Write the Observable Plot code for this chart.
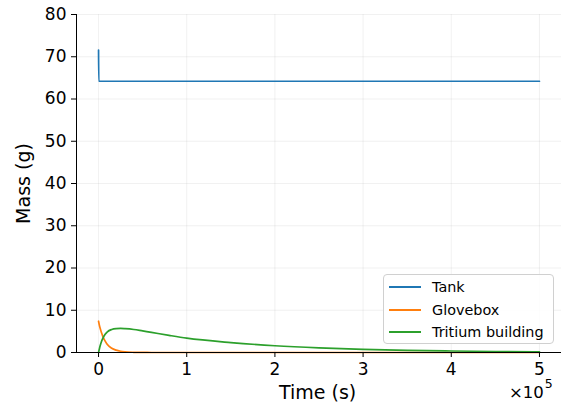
<!DOCTYPE html>
<html><head><meta charset="utf-8">
<script src="https://cdn.jsdelivr.net/npm/d3@7"></script>
<script src="https://cdn.jsdelivr.net/npm/@observablehq/plot@0.6"></script>
<style>
body{margin:0;background:#fff;font-family:"DejaVu Sans",sans-serif;}
#wrap{position:relative;width:566px;height:410px;overflow:hidden;}
.lbl{position:absolute;color:#000;white-space:nowrap;}
#legend{position:absolute;left:383px;top:274px;width:169px;height:68px;border:1px solid #d0d0d0;border-radius:4px;background:rgba(255,255,255,0.85);font-size:14.4px;}
.row{position:absolute;left:0;height:20px;display:flex;align-items:center;}
.sw{width:32px;height:2px;margin-left:5px;margin-right:11px;}
</style></head><body><div id="wrap"></div>
<script>
const seriesNames = ["Tank", "Glovebox", "Tritium building"];
const seriesColors = ["#1f77b4", "#ff7f0e", "#2ca02c"];

const tankTime = [0, 300, 500000];
const tankMass = [71.6, 64.2, 64.2];

const time = [0, 1000, 2000, 3500, 5000, 7500, 10000, 15000, 20000, 25000, 30000, 40000, 50000, 60000, 80000, 100000, 150000, 200000, 250000, 300000, 350000, 400000, 450000, 500000];
const glovebox = [7.4, 6.4, 5.6, 4.6, 3.7, 2.7, 1.9, 1.0, 0.55, 0.3, 0.16, 0.05, 0.015, 0.005, 0, 0, 0, 0, 0, 0, 0, 0, 0, 0];
const building = [0, 0.9, 1.7, 2.7, 3.4, 4.3, 4.9, 5.45, 5.65, 5.7, 5.65, 5.45, 5.1, 4.75, 4.05, 3.4, 2.35, 1.6, 1.1, 0.75, 0.5, 0.35, 0.24, 0.17];

const xTicks = [0, 100000, 200000, 300000, 400000, 500000];
const xTickLabels = ["0", "1", "2", "3", "4", "5"];
const yTicks = [0, 10, 20, 30, 40, 50, 60, 70, 80];

const rows = [];
tankTime.forEach((t, i) => rows.push({t, m: tankMass[i], s: seriesNames[0]}));
time.forEach((t, i) => rows.push({t, m: glovebox[i], s: seriesNames[1]}));
time.forEach((t, i) => rows.push({t, m: building[i], s: seriesNames[2]}));

const chart = Plot.plot({
  width: 566, height: 410,
  marginLeft: 76, marginRight: 5, marginTop: 14, marginBottom: 58,
  style: {fontFamily: "DejaVu Sans", fontSize: "17px", color: "#000", background: "transparent", overflow: "visible"},
  x: {domain: [-25000, 525000]},
  y: {domain: [0, 80]},
  color: {domain: seriesNames, range: seriesColors},
  marks: [
    Plot.gridX(xTicks, {stroke: "#b0b0b0", strokeOpacity: 0.22, strokeWidth: 0.8}),
    Plot.gridY(yTicks, {stroke: "#b0b0b0", strokeOpacity: 0.22, strokeWidth: 0.8}),
    Plot.line(rows, {x: "t", y: "m", z: "s", stroke: "s", strokeWidth: 1.7, curve: "monotone-x"}),
    Plot.ruleX([-25000], {stroke: "#000", strokeWidth: 1}),
    Plot.ruleY([0], {stroke: "#000", strokeWidth: 1}),
    Plot.axisX(xTicks, {tickFormat: d => xTickLabels[xTicks.indexOf(d)], tickSize: 5, tickPadding: 5, label: null, fontSize: 17}),
    Plot.axisY(yTicks, {tickSize: 5, tickPadding: 5, label: null, fontSize: 17})
  ]
});
const wrap = document.getElementById("wrap");
wrap.appendChild(chart);

function addLabel(html, css) {
  const d = document.createElement("div");
  d.className = "lbl";
  d.innerHTML = html;
  Object.assign(d.style, css);
  wrap.appendChild(d);
  return d;
}
addLabel("Time (s)", {left: "279px", top: "383px", fontSize: "19px", lineHeight: "19px"});
addLabel("×10<span style='font-size:12.5px;position:relative;top:-10px;margin-left:1px'>5</span>", {left: "509px", top: "385px", fontSize: "16.5px", lineHeight: "16.5px"});
addLabel("Mass (g)", {left: "-17px", top: "174px", width: "81px", textAlign: "center", fontSize: "19px", lineHeight: "19px", transform: "rotate(-90deg)", transformOrigin: "center"});

const lg = document.createElement("div");
lg.id = "legend";
seriesNames.forEach((n, i) => {
  const r = document.createElement("div");
  r.className = "row";
  r.style.top = (2 + i * 22.5) + "px";
  r.innerHTML = `<div class="sw" style="background:${seriesColors[i]}"></div><span>${n}</span>`;
  lg.appendChild(r);
});
wrap.appendChild(lg);
</script></body></html>
